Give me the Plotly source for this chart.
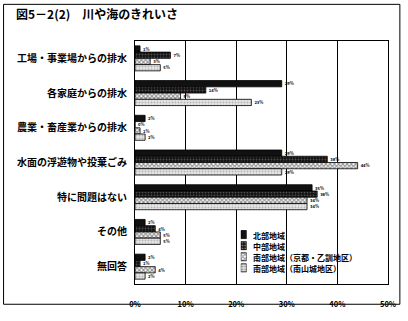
import plotly.graph_objects as go

categories = ["工場・事業場からの排水", "各家庭からの排水", "農業・畜産業からの排水",
              "水面の浮遊物や投棄ごみ", "特に問題はない", "その他", "無回答"]
series_names = ["北部地域", "中部地域", "南部地域（京都・乙訓地区）", "南部地域（南山城地区）"]
north = [1, 29, 2, 29, 35, 2, 2]
central = [7, 14, 0, 38, 36, 4, 1]
south_kyoto = [3, 9, 1, 44, 34, 5, 4]
south_yamashiro = [5, 23, 2, 29, 34, 5, 2]
x_ticks = [0, 10, 20, 30, 40, 50]
x_tick_labels = ["0%", "10%", "20%", "30%", "40%", "50%"]

FONT = "Noto Sans CJK JP"
series = [north, central, south_kyoto, south_yamashiro]
fills = ["#111111", "#111111", "#ffffff", "#e6e6e6"]
pat_shapes = ["", ".", "x", "."]
pat_fg = ["#111111", "#8a8a8a", "#222222", "#888888"]
pat_solid = [0.3, 0.3, 0.6, 0.35]

# plot-area geometry in pixels (for converting legend placement to paper coords)
L, R, T, B = 135, 391, 41, 293
W, H = 408, 321
def px_x(p):
    return (p - L) / (R - L)
def px_y(p):
    return (B - p) / (B - T)

fig = go.Figure()
for i, (name, vals) in enumerate(zip(series_names, series)):
    fig.add_trace(go.Bar(
        y=categories, x=vals, name=name, orientation="h",
        marker=dict(color=fills[i],
                    pattern=dict(shape=pat_shapes[i], fgcolor=pat_fg[i], size=3,
                                 solidity=pat_solid[i]),
                    line=dict(color="#000000", width=0.8)),
        text=[f"{v}%" for v in vals], textposition="outside",
        textfont=dict(family=FONT, size=6, color="#000000", weight="bold"),
        cliponaxis=False, showlegend=False,
    ))

# legend swatches (drawn as a tiny bar chart on an overlay axis)
fig.add_trace(go.Bar(
    y=series_names, x=[1, 1, 1, 1], orientation="h", xaxis="x2", yaxis="y2",
    marker=dict(color=fills, pattern=dict(shape=pat_shapes, fgcolor=pat_fg, size=3,
                                          solidity=pat_solid),
                line=dict(color="#000000", width=0.8)),
    showlegend=False, hoverinfo="skip",
))

sw_top, sw_bot = 236, 282
row_h = (sw_bot - sw_top) / 4
for i, name in enumerate(series_names):
    cy = sw_top + row_h * (i + 0.5)
    fig.add_annotation(x=px_x(253), y=px_y(cy), xref="paper", yref="paper",
                       text=name, showarrow=False, xanchor="left", yanchor="middle",
                       height=10, borderpad=0,
                       font=dict(family=FONT, size=8, color="#000000", weight="bold"))

fig.update_layout(
    width=W, height=H,
    margin=dict(l=L, r=W - R, t=T, b=H - B),
    barmode="group", bargap=0.28, bargroupgap=0.0,
    paper_bgcolor="white", plot_bgcolor="white",
    font=dict(family=FONT, color="#000000"),
    title=dict(text="図5－2(2)　川や海のきれいさ", x=16 / W, xanchor="left",
               xref="container", y=1 - 15 / H, yanchor="middle", yref="container",
               font=dict(family=FONT, size=12, color="#000000", weight="bold")),
    showlegend=False,
    xaxis=dict(range=[0, 50], tickvals=x_ticks, ticktext=x_tick_labels,
               showgrid=True, gridcolor="#000000", gridwidth=1,
               showline=True, linecolor="#000000", linewidth=1, mirror=True,
               ticks="", ticklabelstandoff=13,
               tickfont=dict(family=FONT, size=7.5, weight="bold"),
               zeroline=False),
    yaxis=dict(autorange="reversed", showline=True, linecolor="#000000",
               linewidth=1, mirror=True, ticks="", ticklabelstandoff=5,
               tickfont=dict(family=FONT, size=10, weight="bold")),
    xaxis2=dict(domain=[px_x(242), px_x(248)], range=[0, 1], visible=False,
                anchor="y2", fixedrange=True),
    yaxis2=dict(domain=[px_y(sw_bot), px_y(sw_top)], autorange="reversed",
                visible=False, anchor="x2", type="category", fixedrange=True),
)

fig.add_shape(type="rect", xref="paper", yref="paper",
              x0=px_x(2), x1=px_x(403), y0=px_y(314), y1=px_y(3),
              line=dict(color="#000000", width=1))

fig.write_html("out.html")
